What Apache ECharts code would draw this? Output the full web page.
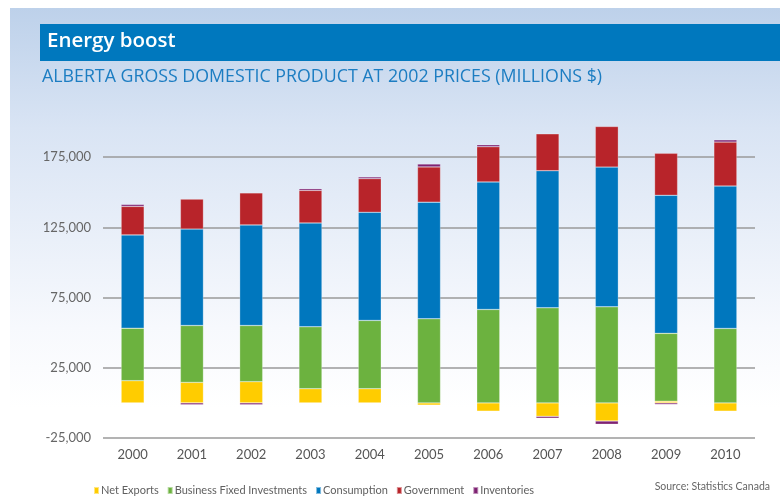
<!DOCTYPE html>
<html style="height: 100%">

<head>
    <meta charset="utf-8">
    <script src="https://cdn.jsdelivr.net/npm/echarts@6/dist/echarts.min.js"></script>
</head>

<body style="height: 100%; margin: 0; background: #fff">
    <div id="main" style="width: 780px;height:498px;"></div>
    <script type="text/javascript">
        // Alberta GDP components, millions of 2002 $
        var years = ['2000', '2001', '2002', '2003', '2004', '2005', '2006', '2007', '2008', '2009', '2010'];
        var netExports = [15800, 14600, 15100, 10100, 10100, -1600, -5900, -9600, -12900, 1200, -5900];
        var businessInv = [37400, 40500, 40000, 44100, 48600, 59900, 66500, 67700, 68400, 48300, 53000];
        var consumption = [66400, 68700, 71600, 73900, 77000, 83000, 90800, 97600, 99500, 98300, 101400];
        var government = [20300, 21300, 22800, 23200, 24000, 25100, 25100, 26300, 28900, 29900, 31300];
        var inventories = [1400, -1300, -1300, 1200, 1200, 2100, 1400, -1300, -2300, -1100, 1600];

        var seriesNames = ['Net Exports', 'Business Fixed Investments', 'Consumption', 'Government', 'Inventories'];
        var seriesData = [netExports, businessInv, consumption, government, inventories];
        var colors = ['#ffcc00', '#6cb23f', '#0077be', '#b8242a', '#7e2272'];

        var font = 'Lato, "Open Sans", sans-serif';
        var headFont = '"Open Sans", Lato, sans-serif';

        var myChart = echarts.init(document.getElementById('main'));
        myChart.setOption(option = {
            backgroundColor: '#ffffff',
            animation: false,
            textStyle: { fontFamily: font },
            graphic: [
                {
                    type: 'rect', z: -10, silent: true,
                    shape: { x: 10, y: 8, width: 770, height: 400 },
                    style: {
                        fill: new echarts.graphic.LinearGradient(0, 0, 0, 1, [
                            { offset: 0, color: '#bdd1ea' },
                            { offset: 0.3, color: '#d9e4f4' },
                            { offset: 0.8, color: '#f7f9fd' },
                            { offset: 1, color: '#ffffff' }
                        ])
                    }
                },
                {
                    type: 'rect', z: -5, silent: true,
                    shape: { x: 40, y: 24, width: 740, height: 37 },
                    style: { fill: '#0078be' }
                },
                {
                    type: 'text', left: 47, top: 31,
                    style: { text: 'Energy boost', fill: '#ffffff', font: '600 20.5px ' + headFont }
                },
                {
                    type: 'text', left: 42, top: 68,
                    style: { text: 'ALBERTA GROSS DOMESTIC PRODUCT AT 2002 PRICES (MILLIONS $)', fill: '#1c7dc2', font: '17.8px ' + headFont }
                },
                {
                    type: 'text', right: 10, top: 481,
                    style: { text: 'Source: Statistics Canada', fill: '#666666', font: '10.5px ' + font }
                }
            ],
            legend: {
                data: seriesNames,
                left: 93,
                top: 485,
                padding: 0,
                icon: 'rect',
                itemWidth: 5,
                itemHeight: 7,
                itemGap: 8,
                textStyle: { fontSize: 11, color: '#606060', padding: [0, 0, 0, -3] }
            },
            grid: {
                left: 103,
                right: 25,
                top: 122,
                bottom: 60
            },
            xAxis: {
                type: 'category',
                data: years,
                axisLine: { show: false },
                axisTick: { show: false },
                axisLabel: { color: '#555555', fontSize: 13, margin: 10 }
            },
            yAxis: {
                type: 'value',
                min: -25000,
                max: 200000,
                interval: 25000,
                axisLine: { show: false },
                axisTick: { show: false },
                axisLabel: {
                    color: '#666666',
                    fontSize: 13,
                    margin: 12,
                    formatter: function (v) {
                        if ((v / 25000) % 2 === 0) return '';
                        return v.toLocaleString('en-US');
                    }
                },
                splitLine: {
                    lineStyle: { color: ['#9a9a9a', 'transparent'], width: 1.5 }
                }
            },
            series: seriesNames.map(function (name, i) {
                return {
                    name: name,
                    type: 'bar',
                    stack: 'gdp',
                    barWidth: 23,
                    data: seriesData[i],
                    itemStyle: {
                        color: colors[i],
                        borderColor: 'rgba(255,255,255,0.5)',
                        borderWidth: 0.5
                    }
                };
            })
        });
    </script>
</body>

</html>
